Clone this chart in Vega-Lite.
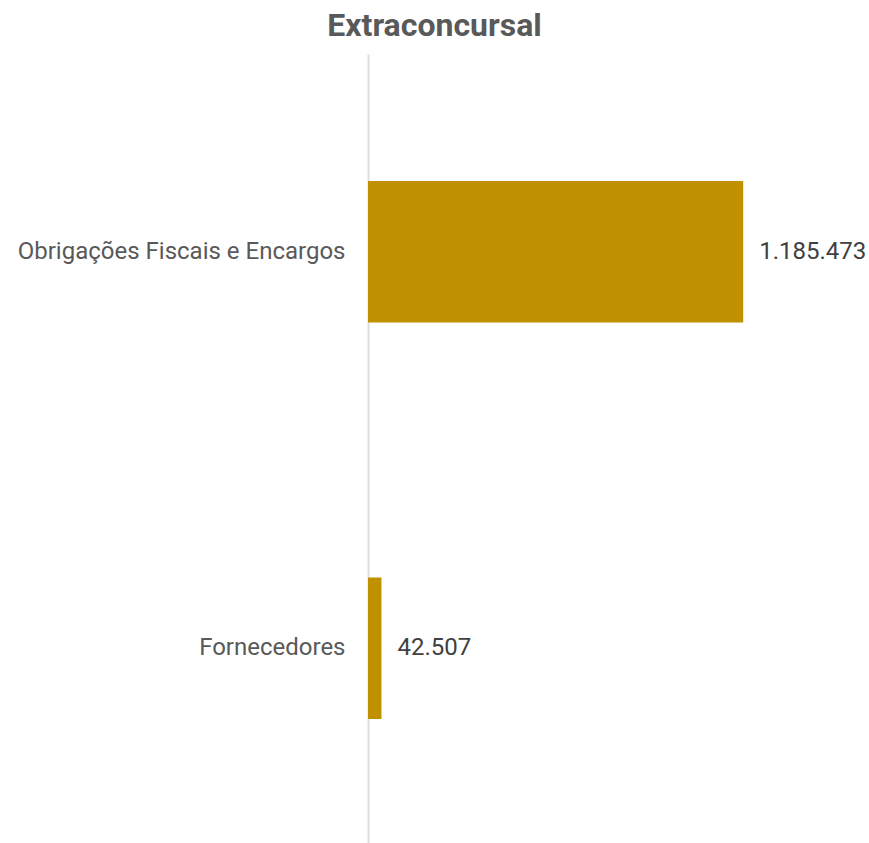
{
  "$schema": "https://vega.github.io/schema/vega-lite/v6.json",
  "autosize": "none",
  "padding": {"left": 368, "top": 54, "right": 0, "bottom": 0},
  "width": 501,
  "height": 792,
  "background": "white",
  "title": {
    "text": "Extraconcursal",
    "font": "Roboto",
    "fontSize": 32,
    "fontWeight": "bold",
    "color": "#595959",
    "anchor": "middle",
    "dx": -184,
    "offset": 11
  },
  "config": {"view": {"stroke": null}},
  "data": {
    "values": [
      {"categoria": "Obrigações Fiscais e Encargos", "valor": 1185473, "rotulo": "1.185.473"},
      {"categoria": "Fornecedores", "valor": 42507, "rotulo": "42.507"}
    ]
  },
  "encoding": {
    "y": {
      "field": "categoria",
      "type": "nominal",
      "sort": null,
      "scale": {"paddingInner": 0.643, "paddingOuter": 0.32},
      "axis": {
        "title": null,
        "ticks": false,
        "domain": true,
        "domainColor": "#dddddd",
        "domainWidth": 2,
        "labelFont": "Roboto",
        "labelFontSize": 24,
        "labelColor": "#595959",
        "labelPadding": 23,
        "labelLimit": 400
      }
    },
    "x": {
      "field": "valor",
      "type": "quantitative",
      "scale": {"domain": [0, 1583000], "nice": false},
      "axis": null
    }
  },
  "layer": [
    {"mark": {"type": "bar", "color": "#bf9000"}},
    {
      "mark": {"type": "text", "align": "left", "baseline": "middle", "dx": 16, "font": "Roboto", "fontSize": 24, "color": "#404040"},
      "encoding": {"text": {"field": "rotulo"}}
    }
  ]
}
